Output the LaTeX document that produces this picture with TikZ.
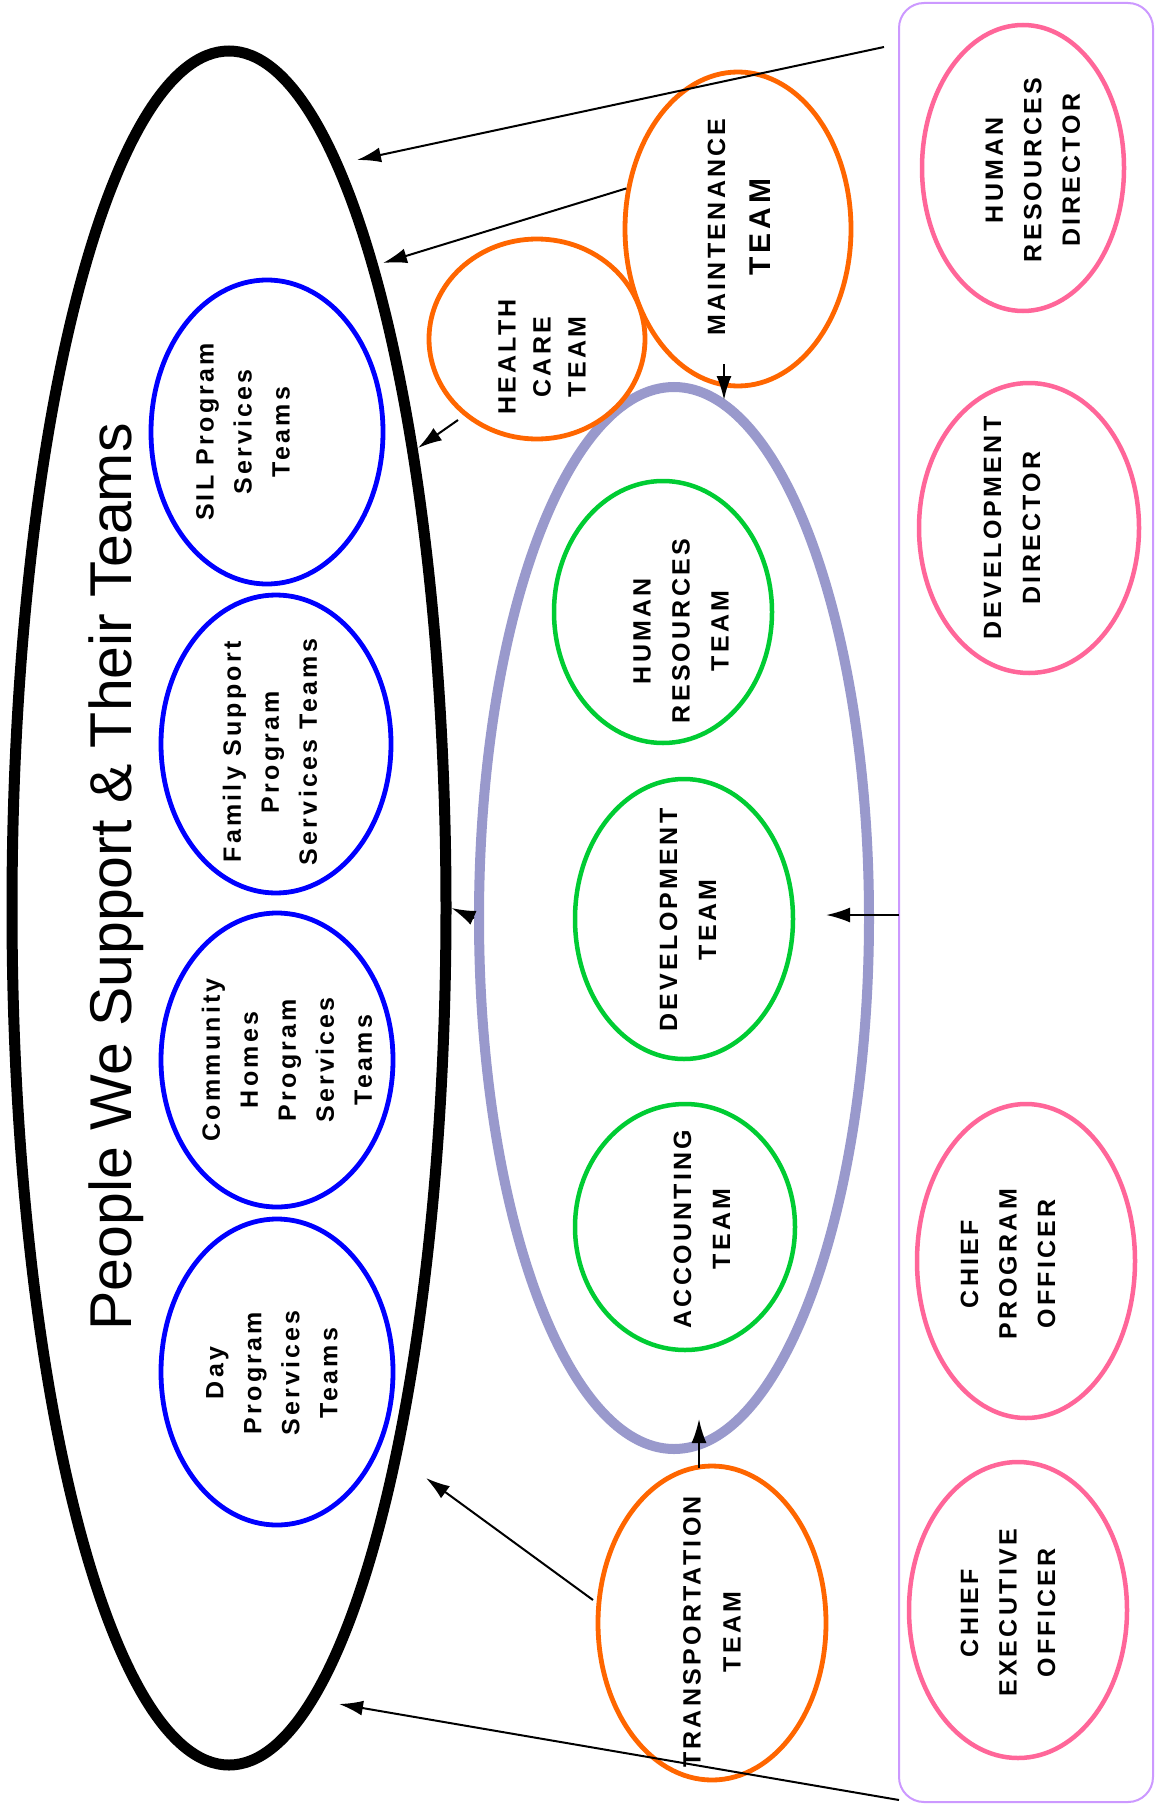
\documentclass[tikz,border=0pt]{standalone}
\usepackage{fontspec}
\setmainfont{Liberation Sans}
\newfontfamily\lblfont{Liberation Sans}[LetterSpace=13]
\usetikzlibrary{arrows.meta,shapes.geometric}
\definecolor{tblue}{RGB}{0,0,255}
\definecolor{tlav}{RGB}{153,153,204}
\definecolor{tgreen}{RGB}{0,204,51}
\definecolor{torange}{RGB}{255,102,0}
\definecolor{tpink}{RGB}{255,102,153}
\definecolor{tpurple}{RGB}{204,153,255}
\begin{document}
\begin{tikzpicture}[x=1pt,y=-1pt,
  oval/.style 2 args={ellipse, inner sep=0pt, minimum width=2*#1, minimum height=2*#2},
  blueo/.style={draw=tblue, line width=4.8},
  greeno/.style={draw=tgreen, line width=4.5},
  orangeo/.style={draw=torange, line width=4.8},
  pinko/.style={draw=tpink, line width=4.5},
  lbl/.style={rotate=90, align=center, inner sep=0pt, font=\lblfont\bfseries\fontsize{25}{38}\selectfont},
  arr/.style={line width=2, -{Latex[length=24pt,width=15pt]}}]
\useasboundingbox (0,0) rectangle (1155,1806);
\fill[white] (0,0) rectangle (1155,1806);

% frame on the right
\node[draw=tpurple, line width=2, rounded corners=25, minimum width=254, minimum height=1799, inner sep=0pt] (box) at (1026,902.5) {};

% big black ellipse
\node[oval={217}{857}, draw=black, line width=11] (people) at (229,908) {};
\node[rotate=90, anchor=base, inner sep=0pt, font=\fontsize{59}{70}\selectfont] (title) at (131,877) {People We Support \& Their Teams};

% blue program ellipses
\node[oval={116}{152}, blueo] (sil) at (267,432) {};
\node[oval={115}{149}, blueo] (fam) at (276,744) {};
\node[oval={116}{147}, blueo] (com) at (277,1060) {};
\node[oval={116}{153}, blueo] (day) at (277,1372) {};
\node[lbl] (silt) at (243,432) {SIL Program\\Services\\Teams};
\node[lbl] (famt) at (270,752) {Family Support\\Program\\Services Teams};
\node[lbl] (comt) at (287,1060) {Community\\Homes\\Program\\Services\\Teams};
\node[lbl] (dayt) at (272,1373) {Day\\Program\\Services\\Teams};

% lavender support ellipse
\node[oval={195}{531}, draw=tlav, line width=10] (lav) at (674,918) {};
\node[oval={109}{131}, greeno] (hrt) at (663,612) {};
\node[oval={109}{140}, greeno] (dev) at (684,919) {};
\node[oval={110}{123}, greeno] (acc) at (685,1227) {};
\node[lbl, font=\lblfont\bfseries\fontsize{25}{39}\selectfont] (hrtt) at (681,631) {HUMAN\\RESOURCES\\TEAM};
\node[lbl, font=\lblfont\bfseries\fontsize{25}{39}\selectfont] (devt) at (688,920) {DEVELOPMENT\\TEAM};
\node[lbl, font=\lblfont\bfseries\fontsize{25}{39}\selectfont] (acct) at (702,1229) {ACCOUNTING\\TEAM};

% orange teams
\node[oval={113}{157}, orangeo] (maint) at (738,229) {};
\node[oval={108}{100}, orangeo] (hc) at (537,339) {};
\node[oval={114}{157}, orangeo] (trans) at (712,1623) {};
\node[lbl] (maintt) at (739,227) {MAINTENANCE\\[7pt]{\fontsize{30}{38}\selectfont TEAM}};
\node[lbl, font=\lblfont\bfseries\fontsize{25}{35}\selectfont] (hct) at (542,357) {HEALTH\\CARE\\TEAM};
\node[lbl, font=\lblfont\bfseries\fontsize{25}{40}\selectfont] (transt) at (712,1632) {TRANSPORTATION\\TEAM};

% pink officers
\node[oval={101}{143}, pinko] (hrd) at (1023,168) {};
\node[oval={110}{145}, pinko] (devd) at (1029,528) {};
\node[oval={109}{157}, pinko] (cpo) at (1026,1261) {};
\node[oval={109}{148}, pinko] (ceo) at (1018,1610) {};
\node[lbl, font=\lblfont\bfseries\fontsize{25}{38.5}\selectfont] (hrdt) at (1033,170) {HUMAN\\RESOURCES\\DIRECTOR};
\node[lbl, font=\lblfont\bfseries\fontsize{25}{39}\selectfont] (devdt) at (1012,528) {DEVELOPMENT\\DIRECTOR};
\node[lbl, font=\lblfont\bfseries\fontsize{25}{38.5}\selectfont] (cpot) at (1008,1264) {CHIEF\\PROGRAM\\OFFICER};
\node[lbl, font=\lblfont\bfseries\fontsize{25}{38.5}\selectfont] (ceot) at (1008,1613) {CHIEF\\EXECUTIVE\\OFFICER};

% connector end points
\coordinate (a1s) at (884,47);
\coordinate (a1e) at (357,160);
\coordinate (a2e) at (383,263);
\coordinate (a3s) at (458,420);
\coordinate (a3e) at (418,448);
\coordinate (a4s) at (724,364);
\coordinate (a4e) at (724,400);
\coordinate (a6s) at (899,915);
\coordinate (a6e) at (826,915);
\coordinate (a7s) at (699,1468);
\coordinate (a7e) at (699,1419);
\coordinate (a8s) at (593,1600);
\coordinate (a8e) at (426,1478);
\coordinate (a9s) at (899,1800);
\coordinate (a9e) at (339,1704);

% connectors
\draw[arr] (a1s) -- (a1e);
\draw[arr] (maint.160) -- (a2e);
\draw[arr] (a3s) -- (a3e);
\draw[arr] (a4s) -- (a4e);
\draw[arr] (lav.west) -- (people.east);
\draw[arr] (a6s) -- (a6e);
\draw[arr] (a7s) -- (a7e);
\draw[arr] (a8s) -- (a8e);
\draw[arr] (a9s) -- (a9e);
\end{tikzpicture}
\end{document}
